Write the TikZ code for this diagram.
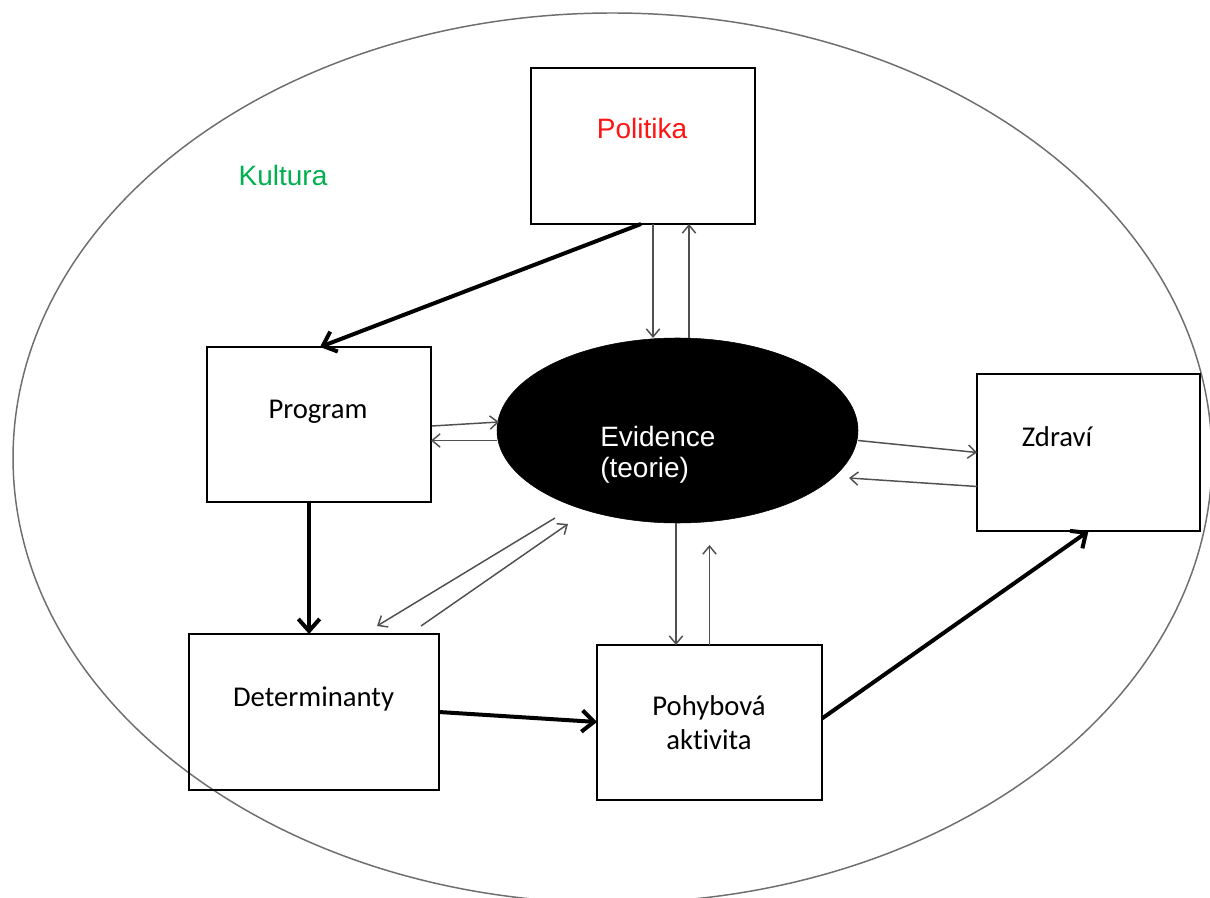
\documentclass[tikz,border=0pt]{standalone}
\usepackage{fontspec}
\newfontfamily\calib[Ligatures=NoCommon]{Carlito}
\newfontfamily\arialf{Liberation Sans}
\usetikzlibrary{arrows.meta,calc,shapes.geometric}
\definecolor{conn}{RGB}{80,80,80}
\definecolor{kultgray}{RGB}{110,110,110}
\definecolor{polred}{RGB}{255,20,20}
\definecolor{kultgreen}{RGB}{0,176,80}
\begin{document}
\begin{tikzpicture}[x=0.75pt,y=-0.75pt,
  box/.style={draw=black, line width=2.2pt, inner sep=0pt, outer sep=0pt},
  lbl/.style={font=\calib\fontsize{21.5}{25}\selectfont, inner sep=0pt, anchor=base},
  albl/.style={font=\arialf\fontsize{21}{25}\selectfont, inner sep=0pt, anchor=base},
  thinarrow/.style={draw=conn, line width=1.1pt, -{Straight Barb[length=6pt,width=10pt]}},
  thickarrow/.style={draw=black, line width=3pt, -{Straight Barb[length=9pt,width=16pt]}}]
\useasboundingbox (0,0) rectangle (1210,898);
\fill[white] (0,0) rectangle (1210,898);
\begin{scope}
  \clip (0,0) rectangle (1210,898);
  \draw[kultgray, line width=1.1pt] (612.5,458) ellipse [x radius=449.6pt, y radius=333.75pt];
\end{scope}
% boxes
\node[box, minimum width=168pt, minimum height=117pt] (pol) at (643,146) {};
\node[box, minimum width=168pt, minimum height=116.25pt] (prog) at (319,424.5) {};
\node[box, minimum width=167.25pt, minimum height=117.75pt] (zdr) at (1088.5,452.5) {};
\node[box, minimum width=187.5pt, minimum height=117pt] (det) at (314,712) {};
\node[box, minimum width=168.75pt, minimum height=116.25pt] (poh) at (709.5,722.5) {};
\node[ellipse, fill=black, draw=black, inner sep=0pt, outer sep=0pt, minimum width=270.75pt, minimum height=138.75pt] (evid) at (677.5,430.5) {};
% texts
\node[albl, text=polred] (poltxt) at (642,139) {Politika};
\node[albl, text=kultgreen] (kult) at (283,186) {Kultura};
\node[lbl] (progtxt) at (318,418) {Program};
\node[lbl] (zdrtxt) at (1057,446) {Zdraví};
\node[lbl] (dettxt) at (313.5,706) {Determinanty};
\node[font=\calib\fontsize{21.5}{25.5}\selectfont, inner sep=0pt, align=center] (pohtxt) at (709,723) {Pohybová\\aktivita};
\node[font=\arialf\fontsize{21}{23.5}\selectfont, inner sep=0pt, align=left, text=white, anchor=west] (evtxt) at (600,455) {Evidence\\(teorie)};
% thick connectors
\draw[thickarrow] ($(pol.south)+(-2,0)$) -- ($(prog.north)+(1,0)$);
\draw[thickarrow] ($(prog.south)+(-10,0)$) -- ($(det.north)+(-5,0)$);
\draw[thickarrow] (det.east) -- ($(poh.west)+(0,-0.5)$);
\draw[thickarrow] ($(poh.east)+(0,-4)$) -- (zdr.south);
% thin connectors
\draw[thinarrow] ($(pol.south)+(10,0)$) -- ($(evid.north)+(-24.5,0)$);
\draw[thinarrow] ($(evid.north)+(11.5,0)$) -- ($(pol.south)+(46,0)$);
\draw[thinarrow] ($(prog.east)+(1,1.5)$) -- ($(evid.west)+(2,-8.5)$);
\draw[thinarrow] ($(evid.west)+(0,10)$) -- ($(prog.east)+(0,16)$);
\draw[thinarrow] ($(evid.east)+(0,10)$) -- (zdr.west);
\draw[thinarrow] ($(zdr.west)+(0,34)$) -- ($(evid.east)+(-9,47.5)$);
\draw[thinarrow] ($(evid.south)+(-1.5,0)$) -- ($(poh.north)+(-33.5,0)$);
\draw[thinarrow] (poh.north) -- ($(evid.south)+(32,22)$);
\draw[thinarrow] ($(evid.south)+(-122.5,-5)$) -- ($(det.north)+(63,-8)$);
\draw[thinarrow] ($(det.north)+(107,-8)$) -- ($(evid.south)+(-109.5,1)$);
\end{tikzpicture}
\end{document}
